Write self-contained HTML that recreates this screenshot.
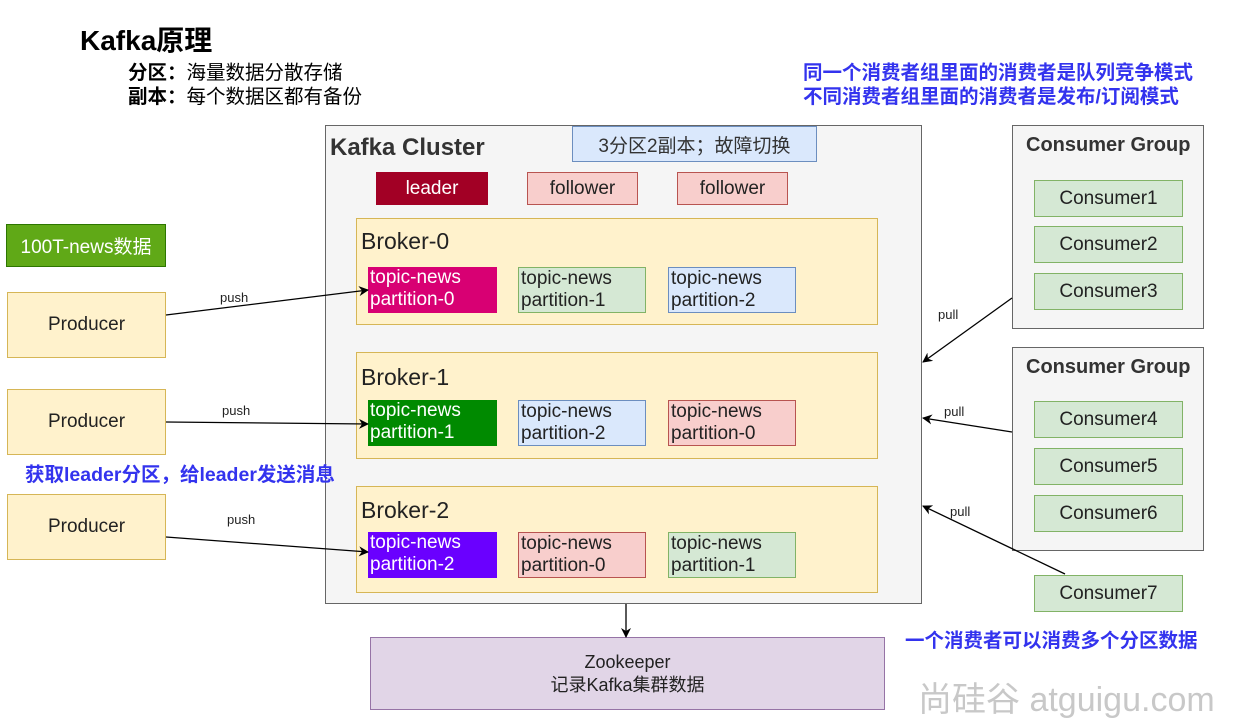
<!DOCTYPE html>
<html><head><meta charset="utf-8"><style>
body{margin:0;width:1237px;height:726px;background:#fff;position:relative;overflow:hidden;font-family:"Liberation Sans","Noto Sans CJK SC",sans-serif;}
.a{position:absolute;box-sizing:border-box;}
.c{display:flex;align-items:center;justify-content:center;text-align:center;}
.y{background:#fff2cc;border:1px solid #d6b656;}
.g{background:#d5e8d4;border:1px solid #82b366;}
.b{background:#dae8fc;border:1px solid #6c8ebf;}
.r{background:#f8cecc;border:1px solid #b85450;}
.p{font-size:19px;line-height:22px;padding-left:2px;color:#222;}
.blue{color:#3333ee;font-weight:bold;font-size:19.5px;}
.cons{font-size:19px;color:#222;}
</style></head><body>
<div class="a" style="left:80px;top:19px;font-size:28px;font-weight:bold;">Kafka原理</div>
<div class="a" style="left:128px;top:61px;font-size:19.5px;line-height:24px;"><b>分区：</b>海量数据分散存储<br><b>副本：</b>每个数据区都有备份</div>
<div class="a blue" style="left:803px;top:61px;line-height:24px;">同一个消费者组里面的消费者是队列竞争模式<br>不同消费者组里面的消费者是发布/订阅模式</div>

<div class="a" style="left:325px;top:125px;width:597px;height:479px;background:#f5f5f5;border:1px solid #666;"></div>
<div class="a c b" style="left:572px;top:126px;width:245px;height:36px;font-size:19px;color:#333;">3分区2副本；故障切换</div>
<div class="a" style="left:330px;top:134px;font-size:24px;font-weight:bold;color:#333;">Kafka Cluster</div>
<div class="a c" style="left:376px;top:172px;width:112px;height:33px;background:#a20025;color:#fff;font-size:19px;">leader</div>
<div class="a c r" style="left:527px;top:172px;width:111px;height:33px;font-size:19px;color:#222;">follower</div>
<div class="a c r" style="left:677px;top:172px;width:111px;height:33px;font-size:19px;color:#222;">follower</div>

<div class="a y" style="left:356px;top:218px;width:522px;height:107px;"></div>
<div class="a" style="left:361px;top:228px;font-size:23px;color:#222;">Broker-0</div>
<div class="a p" style="left:368px;top:267px;width:129px;height:46px;background:#d80073;color:#fff;">topic-news<br>partition-0</div>
<div class="a p g" style="left:518px;top:267px;width:128px;height:46px;">topic-news<br>partition-1</div>
<div class="a p b" style="left:668px;top:267px;width:128px;height:46px;">topic-news<br>partition-2</div>

<div class="a y" style="left:356px;top:352px;width:522px;height:107px;"></div>
<div class="a" style="left:361px;top:364px;font-size:23px;color:#222;">Broker-1</div>
<div class="a p" style="left:368px;top:400px;width:129px;height:46px;background:#008a00;color:#fff;">topic-news<br>partition-1</div>
<div class="a p b" style="left:518px;top:400px;width:128px;height:46px;">topic-news<br>partition-2</div>
<div class="a p r" style="left:668px;top:400px;width:128px;height:46px;">topic-news<br>partition-0</div>

<div class="a y" style="left:356px;top:486px;width:522px;height:107px;"></div>
<div class="a" style="left:361px;top:497px;font-size:23px;color:#222;">Broker-2</div>
<div class="a p" style="left:368px;top:532px;width:129px;height:46px;background:#6a00ff;color:#fff;">topic-news<br>partition-2</div>
<div class="a p r" style="left:518px;top:532px;width:128px;height:46px;">topic-news<br>partition-0</div>
<div class="a p g" style="left:668px;top:532px;width:128px;height:46px;">topic-news<br>partition-1</div>

<div class="a c" style="left:6px;top:224px;width:160px;height:43px;background:#60a917;border:1px solid #2d7600;color:#fff;font-size:19px;">100T-news数据</div>
<div class="a c y" style="left:7px;top:292px;width:159px;height:66px;font-size:19px;color:#222;">Producer</div>
<div class="a c y" style="left:7px;top:389px;width:159px;height:66px;font-size:19px;color:#222;">Producer</div>
<div class="a c y" style="left:7px;top:494px;width:159px;height:66px;font-size:19px;color:#222;">Producer</div>
<div class="a blue" style="left:25px;top:458px;">获取leader分区，给leader发送消息</div>

<div class="a" style="left:1012px;top:125px;width:192px;height:204px;background:#f5f5f5;border:1px solid #666;"></div>
<div class="a" style="left:1026px;top:134px;font-size:20px;font-weight:bold;color:#333;">Consumer Group</div>
<div class="a c g cons" style="left:1034px;top:180px;width:149px;height:37px;">Consumer1</div>
<div class="a c g cons" style="left:1034px;top:226px;width:149px;height:37px;">Consumer2</div>
<div class="a c g cons" style="left:1034px;top:273px;width:149px;height:37px;">Consumer3</div>
<div class="a" style="left:1012px;top:347px;width:192px;height:204px;background:#f5f5f5;border:1px solid #666;"></div>
<div class="a" style="left:1026px;top:356px;font-size:20px;font-weight:bold;color:#333;">Consumer Group</div>
<div class="a c g cons" style="left:1034px;top:401px;width:149px;height:37px;">Consumer4</div>
<div class="a c g cons" style="left:1034px;top:448px;width:149px;height:37px;">Consumer5</div>
<div class="a c g cons" style="left:1034px;top:495px;width:149px;height:37px;">Consumer6</div>
<div class="a c g cons" style="left:1034px;top:575px;width:149px;height:37px;">Consumer7</div>
<div class="a blue" style="left:905px;top:624px;">一个消费者可以消费多个分区数据</div>

<div class="a c" style="left:370px;top:637px;width:515px;height:73px;background:#e1d5e7;border:1px solid #9673a6;font-size:18px;line-height:23px;color:#222;">Zookeeper<br>记录Kafka集群数据</div>
<div class="a" style="left:918px;top:672px;font-size:34px;color:#c8c8c8;">尚硅谷 atguigu.com</div>

<svg class="a" style="left:0;top:0" width="1237" height="726">
<defs><marker id="m" markerWidth="10" markerHeight="10" refX="9" refY="5" orient="auto" markerUnits="userSpaceOnUse"><path d="M0,0 L10,5 L0,10 L3,5 z" fill="#000"/></marker></defs>
<g stroke="#000" stroke-width="1.3" fill="none" marker-end="url(#m)">
<line x1="166" y1="315" x2="368" y2="290"/>
<line x1="166" y1="422" x2="368" y2="424"/>
<line x1="166" y1="537" x2="368" y2="552"/>
<line x1="1012" y1="298" x2="923" y2="362"/>
<line x1="1012" y1="432" x2="923" y2="418"/>
<line x1="1065" y1="574" x2="923" y2="506"/>
<line x1="626" y1="604" x2="626" y2="637"/>
</g>
<g font-family="Liberation Sans" font-size="13" fill="#222">
<text x="220" y="302">push</text><text x="222" y="415">push</text><text x="227" y="524">push</text>
<text x="938" y="319">pull</text><text x="944" y="416">pull</text><text x="950" y="516">pull</text>
</g>
</svg>
</body></html>
